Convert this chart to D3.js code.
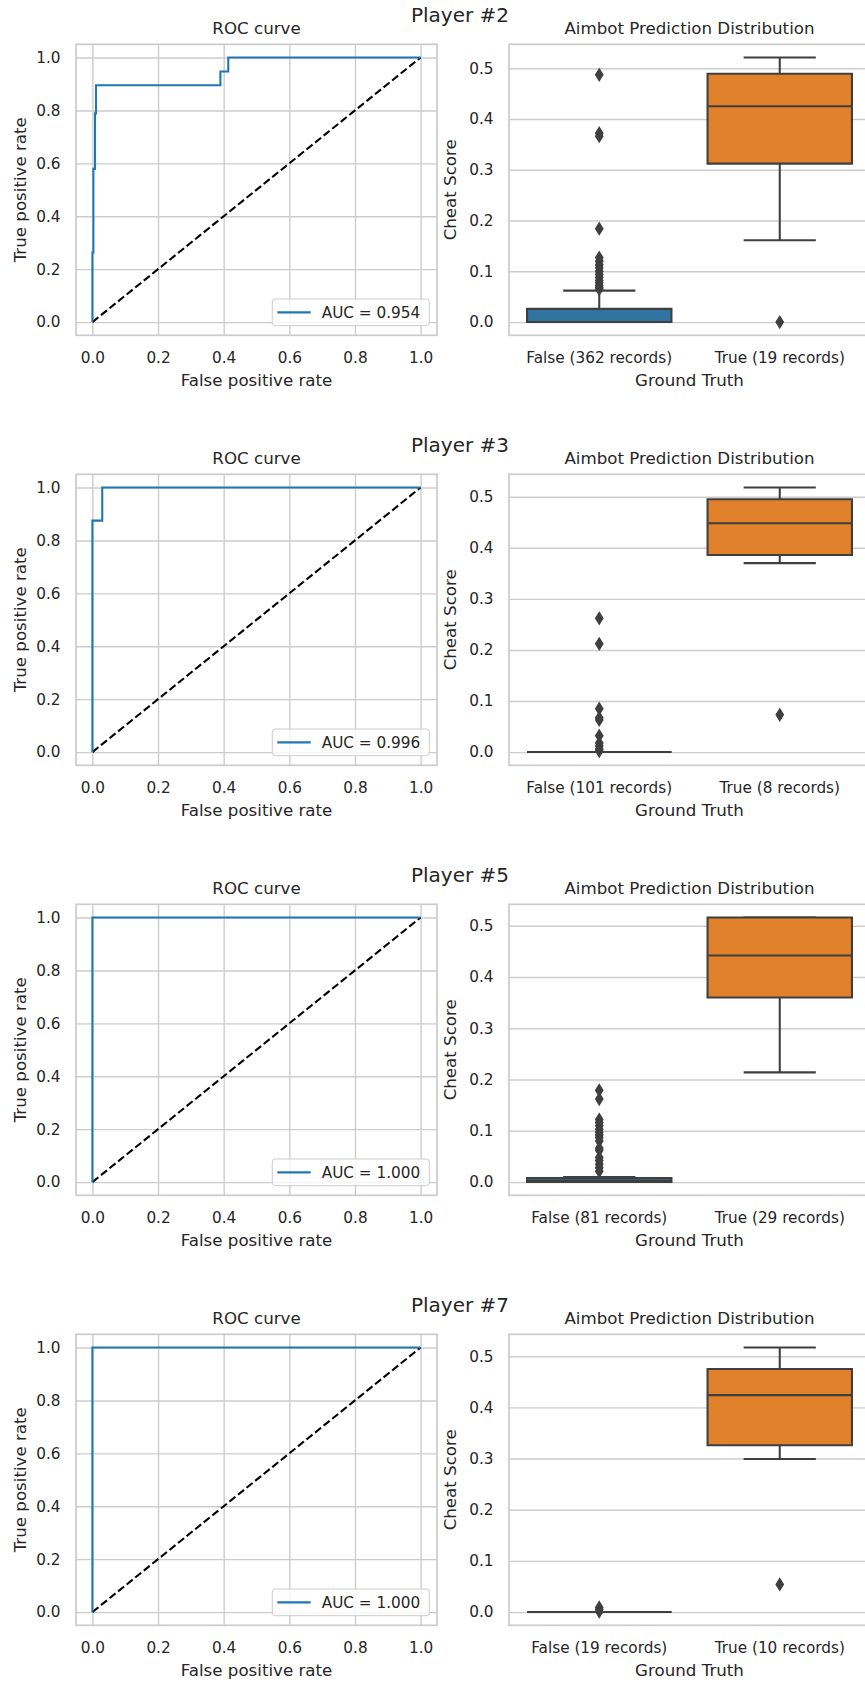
<!DOCTYPE html>
<html>
<head>
<meta charset="utf-8">
<script src="https://cdn.jsdelivr.net/npm/d3@7"></script>
<style>
  body { margin: 0; background: #fff; }
  svg text { font-family: "DejaVu Sans", sans-serif; fill: #262626; }
</style>
</head>
<body>
<div id="chart"></div>
<script>
const players = ["Player #2", "Player #3", "Player #5", "Player #7"];
const aucValues = [0.954, 0.996, 1.000, 1.000];

// ROC curve points, one list per player
const rocFpr = [
    [0, 0, 0.003, 0.003, 0.008, 0.008, 0.011, 0.011, 0.390, 0.390, 0.414, 0.414, 1],
    [0, 0, 0.030, 0.030, 1],
    [0, 0, 1],
    [0, 0, 1]
];
const rocTpr = [
    [0, 0.263, 0.263, 0.579, 0.579, 0.789, 0.789, 0.895, 0.895, 0.947, 0.947, 1, 1],
    [0, 0.875, 0.875, 1, 1],
    [0, 1, 1],
    [0, 1, 1]
];

const groupNames = ["False", "True"];
const recordCounts = [[362, 19], [101, 8], [81, 29], [19, 10]];

// [whisker low, q1, median, q3, whisker high]
const falseBoxes = [
    [0, 0, 0, 0.026, 0.062],
    [0, 0, 0, 0, 0],
    [0, 0, 0.003, 0.008, 0.010],
    [0, 0, 0, 0, 0]
];
const trueBoxes = [
    [0.161, 0.312, 0.425, 0.489, 0.521],
    [0.370, 0.386, 0.448, 0.495, 0.518],
    [0.214, 0.360, 0.442, 0.516, 0.516],
    [0.299, 0.326, 0.424, 0.475, 0.517]
];
const falseOutliers = [
    [0.487, 0.372, 0.366, 0.184, 0.127, 0.120, 0.113, 0.107, 0.100, 0.094, 0.088, 0.082, 0.077, 0.072, 0.068, 0.065],
    [0.262, 0.212, 0.085, 0.067, 0.063, 0.032, 0.018, 0.012, 0.006, 0.002],
    [0.179, 0.162, 0.122, 0.116, 0.110, 0.103, 0.097, 0.092, 0.087, 0.080, 0.066, 0.062, 0.048, 0.042, 0.035, 0.028, 0.021],
    [0.009, 0.005, 0.001]
];
const trueOutliers = [
    [0.0],
    [0.073],
    [],
    [0.054]
];

const rocTicks = [0, 0.2, 0.4, 0.6, 0.8, 1.0];
const scoreTicks = [0, 0.1, 0.2, 0.3, 0.4, 0.5];

const width = 865, height = 1686;
const axW = 361, axH = 291;
const rocLeft = 76, boxLeft = 509;
const boxColors = ["#3274a1", "#e1812c"];
const gray = "#3f3f3f";
const gridColor = "#cccccc";
const tickFont = "15.28px", labelFont = "16.67px";

const svg = d3.select("#chart").append("svg")
    .attr("width", width)
    .attr("height", height)
    .attr("viewBox", [0, 0, width, height]);

svg.append("rect").attr("width", width).attr("height", height).attr("fill", "#fff");

players.forEach((p, i) => {
    const top = 44.3 + i * 430;

    svg.append("text")
        .attr("x", 460)
        .attr("y", top - 22)
        .attr("text-anchor", "middle")
        .style("font-size", "20px")
        .text(p);

    drawRoc(svg.append("g").attr("transform", `translate(${rocLeft},${top})`), i);
    drawBoxes(svg.append("g").attr("transform", `translate(${boxLeft},${top})`), i);
});

function styleAxis(g) {
    g.select(".domain").remove();
    g.selectAll(".tick line").attr("stroke", gridColor).attr("stroke-width", 1.39);
    g.selectAll(".tick text").style("font-size", tickFont).attr("fill", "#262626");
}

function frame(g, title, xLabel, yLabel, yLabelX) {
    g.append("rect")
        .attr("width", axW).attr("height", axH)
        .attr("fill", "none")
        .attr("stroke", gridColor)
        .attr("stroke-width", 1.74);

    g.append("text")
        .attr("x", axW / 2).attr("y", -10)
        .attr("text-anchor", "middle")
        .style("font-size", labelFont)
        .text(title);

    g.append("text")
        .attr("x", axW / 2).attr("y", axH + 50.7)
        .attr("text-anchor", "middle")
        .style("font-size", labelFont)
        .text(xLabel);

    g.append("text")
        .attr("transform", `translate(${yLabelX},${axH / 2}) rotate(-90)`)
        .attr("text-anchor", "middle")
        .style("font-size", labelFont)
        .text(yLabel);
}

function drawRoc(g, i) {
    const x = d3.scaleLinear([-0.05, 1.05], [0, axW]);
    const y = d3.scaleLinear([-0.05, 1.05], [axH, 0]);

    g.append("g")
        .attr("transform", `translate(0,${axH})`)
        .call(d3.axisBottom(x).tickValues(rocTicks).tickFormat(d3.format(".1f")).tickSize(-axH).tickPadding(17))
        .call(styleAxis);

    g.append("g")
        .call(d3.axisLeft(y).tickValues(rocTicks).tickFormat(d3.format(".1f")).tickSize(-axW).tickPadding(15.5))
        .call(styleAxis);

    g.append("path")
        .attr("fill", "none")
        .attr("stroke", "#000")
        .attr("stroke-width", 2.08)
        .attr("stroke-dasharray", "7.7,3.3")
        .attr("d", d3.line()([[x(0), y(0)], [x(1), y(1)]]));

    const pts = rocFpr[i].map((f, k) => ({ fpr: f, tpr: rocTpr[i][k] }));
    const lineGen = d3.line()
        .x(d => x(d.fpr))
        .y(d => y(d.tpr));

    g.append("path")
        .attr("fill", "none")
        .attr("stroke", "#1f77b4")
        .attr("stroke-width", 2.08)
        .attr("d", lineGen(pts));

    frame(g, "ROC curve", "False positive rate", "True positive rate", -50);

    // legend
    const leg = g.append("g").attr("transform", `translate(${axW - 164.7},${axH - 36.3})`);
    leg.append("rect")
        .attr("width", 157).attr("height", 26.7)
        .attr("rx", 3)
        .attr("fill", "#fff").attr("fill-opacity", 0.8)
        .attr("stroke", gridColor).attr("stroke-width", 1);
    leg.append("line")
        .attr("x1", 5).attr("x2", 38.4)
        .attr("y1", 13.4).attr("y2", 13.4)
        .attr("stroke", "#1f77b4").attr("stroke-width", 2.08);
    leg.append("text")
        .attr("x", 49.4).attr("y", 19)
        .style("font-size", tickFont)
        .text(`AUC = ${aucValues[i].toFixed(3)}`);
}

function drawBoxes(g, i) {
    const stats = [falseBoxes[i], trueBoxes[i]];
    const outliers = [falseOutliers[i], trueOutliers[i]];
    const all = stats.flat().concat(outliers.flat());
    const [lo, hi] = d3.extent(all);
    const pad = (hi - lo) * 0.05;
    const y = d3.scaleLinear([lo - pad, hi + pad], [axH, 0]);
    const x = d3.scaleBand([0, 1], [0, axW]).paddingInner(0.2).paddingOuter(0.1);

    g.append("g")
        .call(d3.axisLeft(y).tickValues(scoreTicks).tickFormat(d3.format(".1f")).tickSize(-axW).tickPadding(15.5))
        .call(styleAxis);

    const labels = groupNames.map((n, k) => `${n} (${recordCounts[i][k]} records)`);
    g.append("g")
        .attr("transform", `translate(0,${axH})`)
        .call(d3.axisBottom(x).tickFormat(k => labels[k]).tickSize(0).tickPadding(17))
        .call(styleAxis);

    stats.forEach((s, k) => {
        const [wLo, q1, med, q3, wHi] = s;
        const x0 = x(k), bw = x.bandwidth(), cx = x0 + bw / 2;
        const cap = bw / 4;

        g.append("line")
            .attr("x1", cx).attr("x2", cx)
            .attr("y1", y(q3)).attr("y2", y(wHi))
            .attr("stroke", gray).attr("stroke-width", 2.08);
        g.append("line")
            .attr("x1", cx).attr("x2", cx)
            .attr("y1", y(q1)).attr("y2", y(wLo))
            .attr("stroke", gray).attr("stroke-width", 2.08);
        [wLo, wHi].forEach(w => {
            g.append("line")
                .attr("x1", cx - cap).attr("x2", cx + cap)
                .attr("y1", y(w)).attr("y2", y(w))
                .attr("stroke", gray).attr("stroke-width", 2.08);
        });

        g.append("path")
            .attr("d", `M${x0},${y(q1)}H${x0 + bw}V${y(q3)}H${x0}Z`)
            .attr("fill", boxColors[k])
            .attr("stroke", gray).attr("stroke-width", 2.08)
            .attr("stroke-linejoin", "miter");

        g.append("line")
            .attr("x1", x0).attr("x2", x0 + bw)
            .attr("y1", y(med)).attr("y2", y(med))
            .attr("stroke", gray).attr("stroke-width", 2.08);

        g.selectAll(null)
            .data(outliers[k])
            .join("path")
            .attr("d", "M0,-5.8L3.6,0L0,5.8L-3.6,0Z")
            .attr("transform", d => `translate(${cx},${y(d)})`)
            .attr("fill", gray)
            .attr("stroke", gray)
            .attr("stroke-width", 1.39);
    });

    frame(g, "Aimbot Prediction Distribution", "Ground Truth", "Cheat Score", -53.5);
}
</script>
</body>
</html>
